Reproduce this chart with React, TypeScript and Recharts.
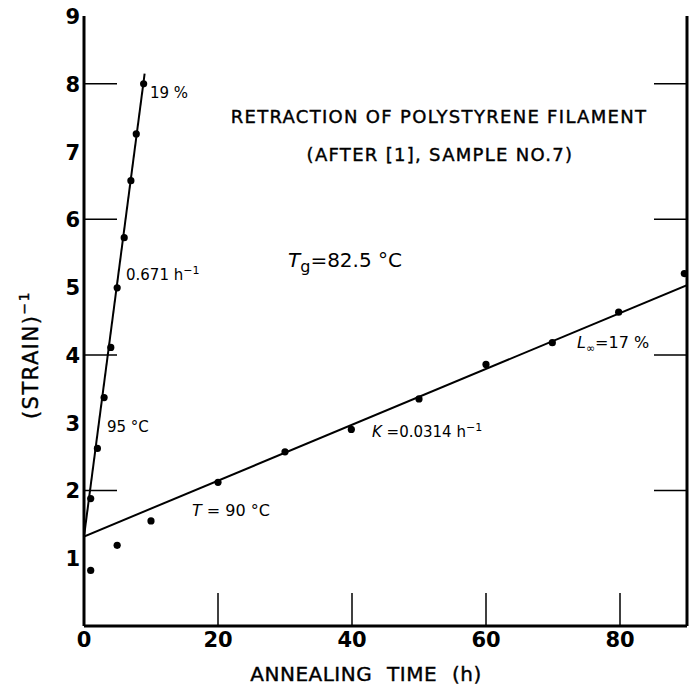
import { ComposedChart, Scatter, XAxis, YAxis } from "recharts";

// readings taken off the figure: annealing time (h) vs 1/strain
const fastPoints = [
  { t: 1.0, y: 1.88 },
  { t: 2.0, y: 2.62 },
  { t: 3.0, y: 3.37 },
  { t: 4.0, y: 4.11 },
  { t: 4.95, y: 4.99 },
  { t: 6.0, y: 5.73 },
  { t: 7.0, y: 6.57 },
  { t: 7.8, y: 7.26 },
  { t: 8.9, y: 8.0 },
];
const slowPoints = [
  { t: 1.0, y: 0.82 },
  { t: 4.95, y: 1.19 },
  { t: 10.0, y: 1.55 },
  { t: 20.0, y: 2.12 },
  { t: 30.0, y: 2.57 },
  { t: 39.9, y: 2.9 },
  { t: 50.0, y: 3.35 },
  { t: 60.0, y: 3.86 },
  { t: 69.9, y: 4.18 },
  { t: 79.8, y: 4.63 },
  { t: 89.6, y: 5.2 },
];
const fastFit = [
  { t: 0, y: 1.32 },
  { t: 9.05, y: 8.15 },
];
const slowFit = [
  { t: 0, y: 1.32 },
  { t: 90, y: 5.03 },
];

const xTicks = [0, 20, 40, 60, 80];
const yTicks = [1, 2, 3, 4, 5, 6, 7, 8, 9];
const xMarks = [20, 40, 60, 80];
const yMarks = [2, 4, 6, 8];

const FONT = "DejaVu Sans";
const MARK = 33;

const Dot = (p: any) => <circle cx={p.cx} cy={p.cy} r={3.6} fill="#000" />;
const NoDot = () => <g />;

const BottomTick = ({ x, y, payload }: any) => (
  <g>
    {payload.value > 0 && <line x1={x} x2={x} y1={y} y2={y - MARK} stroke="#000" strokeWidth={1.5} />}
    <text x={x} y={y + 21} textAnchor="middle" fontFamily={FONT} fontWeight="bold" fontSize={21} fill="#000">
      {payload.value}
    </text>
  </g>
);

const LeftTick = ({ x, y, payload }: any) => (
  <g>
    {payload.value % 2 === 0 && <line x1={x} x2={x + MARK} y1={y} y2={y} stroke="#000" strokeWidth={1.5} />}
    <text x={x - 4} y={y + 8} textAnchor="end" fontFamily={FONT} fontWeight="bold" fontSize={21} fill="#000">
      {payload.value}
    </text>
  </g>
);

const TopTick = ({ x, y }: any) => <line x1={x} x2={x} y1={y} y2={y + MARK} stroke="#000" strokeWidth={1.5} />;
const RightTick = ({ x, y }: any) => <line x1={x} x2={x - MARK} y1={y} y2={y} stroke="#000" strokeWidth={1.5} />;

export default function App() {
  const ax = { stroke: "#000", strokeWidth: 3 };
  return (
    <div style={{ position: "absolute", left: 0, top: 0, width: 689, height: 687, background: "#fff" }}>
      <ComposedChart width={689} height={687} margin={{ top: 16, right: 0, bottom: 0, left: 0 }}>
        <XAxis dataKey="t" type="number" domain={[0, 90]} ticks={xTicks} allowDataOverflow height={61}
          axisLine={ax} tickLine={false} tickSize={0} tickMargin={0} tick={<BottomTick />} interval={0} />
        <XAxis xAxisId="top" orientation="top" type="number" domain={[0, 90]} ticks={xMarks} allowDataOverflow height={0}
          axisLine={ax} tickLine={false} tickSize={0} tickMargin={0} tick={<TopTick />} interval={0} />
        <YAxis dataKey="y" type="number" domain={[0, 9]} ticks={yTicks} allowDataOverflow width={84}
          axisLine={ax} tickLine={false} tickSize={0} tickMargin={0} tick={<LeftTick />} interval={0} />
        <YAxis yAxisId="right" orientation="right" type="number" domain={[0, 9]} ticks={yMarks} allowDataOverflow width={2}
          axisLine={ax} tickLine={false} tickSize={0} tickMargin={0} tick={<RightTick />} interval={0} />
        <Scatter data={fastFit} line={{ stroke: "#000", strokeWidth: 2 }} shape={NoDot} isAnimationActive={false} />
        <Scatter data={slowFit} line={{ stroke: "#000", strokeWidth: 2 }} shape={NoDot} isAnimationActive={false} />
        <Scatter data={fastPoints} shape={Dot} isAnimationActive={false} />
        <Scatter data={slowPoints} shape={Dot} isAnimationActive={false} />
      </ComposedChart>
      <svg width={689} height={687} style={{ position: "absolute", left: 0, top: 0, pointerEvents: "none" }}
        fontFamily={FONT} fill="#000">
        <text x={439} y={123} textAnchor="middle" fontSize={18} letterSpacing={1.3} stroke="#000" strokeWidth={0.4}>RETRACTION OF POLYSTYRENE FILAMENT</text>
        <text x={440} y={161} textAnchor="middle" fontSize={18} letterSpacing={1.3} stroke="#000" strokeWidth={0.4}>(AFTER [1], SAMPLE NO.7)</text>
        <text x={288} y={267} fontSize={20}>
          <tspan fontStyle="italic">T</tspan>
          <tspan dy={5} fontSize={16}>g</tspan>
          <tspan dy={-5}>=82.5 °C</tspan>
        </text>
        <text x={150} y={98} fontSize={15}>19 %</text>
        <text x={126} y={280} fontSize={15}>0.671 h<tspan dy={-6} fontSize={11}>−1</tspan></text>
        <text x={107} y={432} fontSize={15}>95 °C</text>
        <text x={372} y={437} fontSize={15}>
          <tspan fontStyle="italic">K</tspan> =0.0314 h<tspan dy={-6} fontSize={11}>−1</tspan>
        </text>
        <text x={192} y={516} fontSize={16}>
          <tspan fontStyle="italic">T</tspan> = 90 °C
        </text>
        <text x={577} y={348} fontSize={16}>
          <tspan fontStyle="italic">L</tspan>
          <tspan dy={4} fontSize={11}>∞</tspan>
          <tspan dy={-4}>=17 %</tspan>
        </text>
        <text x={366} y={681} textAnchor="middle" fontSize={20} letterSpacing={0.5} wordSpacing={8} stroke="#000" strokeWidth={0.4}>ANNEALING TIME (h)</text>
        <text transform="rotate(-90 38 355)" x={38} y={355} textAnchor="middle" fontSize={21} letterSpacing={1.5} stroke="#000" strokeWidth={0.4}>
          (STRAIN)<tspan dy={-9} fontSize={14}>−1</tspan>
        </text>
      </svg>
    </div>
  );
}
